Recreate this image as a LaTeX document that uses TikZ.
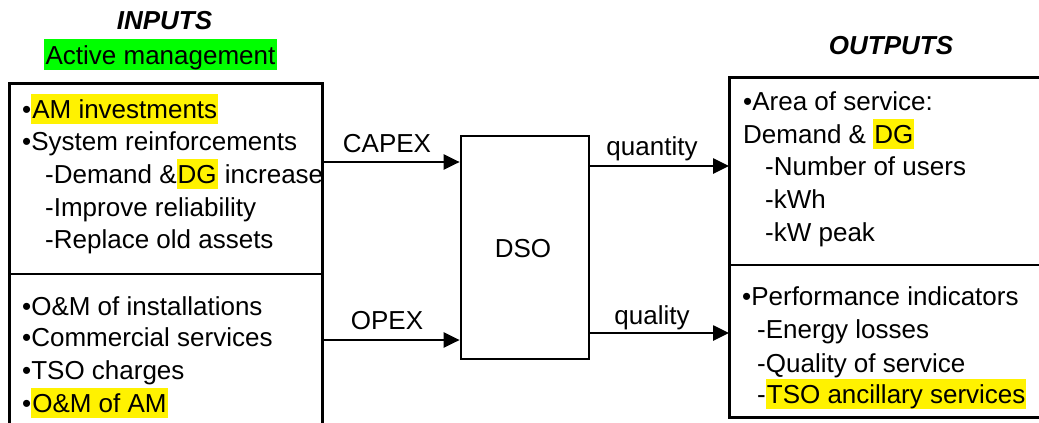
\documentclass[tikz,border=0pt]{standalone}
\usepackage{fontspec}
\setmainfont{Liberation Sans}
\usetikzlibrary{arrows.meta}
\newcommand\hly[1]{{\fboxsep=0pt\colorbox{yellow}{\rule[-5.5pt]{0pt}{30pt}\hspace{1pt}#1\hspace{1pt}}}}
\newcommand\hlg[1]{{\fboxsep=0pt\colorbox{green}{\rule[-6pt]{0pt}{31pt}\hspace{1.5pt}#1\hspace{1.5pt}}}}
\tikzset{
  txt/.style={anchor=base west, inner sep=0pt, font=\fontsize{26}{31}\selectfont},
  ctr/.style={anchor=base, inner sep=0pt, font=\fontsize{26}{31}\selectfont},
  ttl/.style={anchor=base, inner sep=0pt, font=\fontsize{26}{31}\selectfont\bfseries\itshape},
  frame/.style={line width=3pt, line join=miter},
  divider/.style={line width=1.8pt},
  arr/.style={line width=2.6pt, -{Triangle[length=16pt,width=15pt]}},
}
\begin{document}
\begin{tikzpicture}[x=1pt,y=-1pt]
\useasboundingbox (0,0) rectangle (1039,423);
\fill[white] (0,0) rectangle (1039,423);
\clip (0,0) rectangle (1039,423);

% titles
\node[ttl] (inputs) at (164.5,29) {INPUTS};
\node[ctr] (am) at (160.5,64) {\hlg{Active management}};
\node[ttl] (outputs) at (891,54) {OUTPUTS};

% left box (open at bottom)
\coordinate (lbTL) at (9,83);
\coordinate (lbTR) at (322,83);
\draw[frame] (9,430) -- (lbTL) -- (lbTR) -- (322,430);
\draw[divider] (9,274) -- (322,274);

\node[txt] (l1) at (22,118) {•\hly{AM investments}};
\node[txt] (l2) at (22,150) {•System reinforcements};
\node[txt] (l3) at (45,183) {-Demand \&\hly{DG} increase};
\node[txt] (l4) at (45,216) {-Improve reliability};
\node[txt] (l5) at (45,248) {-Replace old assets};
\node[txt] (l6) at (22,315) {•O\&M of installations};
\node[txt] (l7) at (22,346) {•Commercial services};
\node[txt] (l8) at (22,379) {•TSO charges};
\node[txt] (l9) at (22,412) {•\hly{O\&M of AM}};

% right box (open at right)
\draw[frame] (1045,77) -- (729,77) -- (729,417) -- (1045,417);
\draw[divider] (729,265) -- (1045,265);

\node[txt] (r1) at (743,110) {•Area of service:};
\node[txt] (r2) at (743,143) {Demand \& \hly{DG}};
\node[txt] (r3) at (765,175) {-Number of users};
\node[txt] (r4) at (765,208) {-kWh};
\node[txt] (r5) at (765,241) {-kW peak};
\node[txt] (r6) at (742,305) {•Performance indicators};
\node[txt] (r7) at (757,338) {-Energy losses};
\node[txt] (r8) at (757,372) {-Quality of service};
\node[txt] (r9) at (757,403) {-\hly{TSO ancillary services}};

% DSO
\node[draw, line width=2.7pt, minimum width=128pt, minimum height=223pt, inner sep=0pt] (dso) at (525,247.5) {};
\node[ctr] (dsolabel) at (523,257) {DSO};

% connectors
\coordinate (capexS) at (322,162);
\coordinate (opexS) at (322,340);
\coordinate (quantE) at (729,166);
\coordinate (qualE) at (729,333);
\draw[arr] (capexS) -- (capexS -| dso.west);
\draw[arr] (opexS) -- (opexS -| dso.west);
\draw[arr] (quantE -| dso.east) -- (quantE);
\draw[arr] (qualE -| dso.east) -- (qualE);

\node[ctr] (capex) at (387,152) {CAPEX};
\node[ctr] (opex) at (387,329) {OPEX};
\node[ctr] (quantity) at (652,155) {quantity};
\node[ctr] (quality) at (652,324) {quality};
\end{tikzpicture}
\end{document}
